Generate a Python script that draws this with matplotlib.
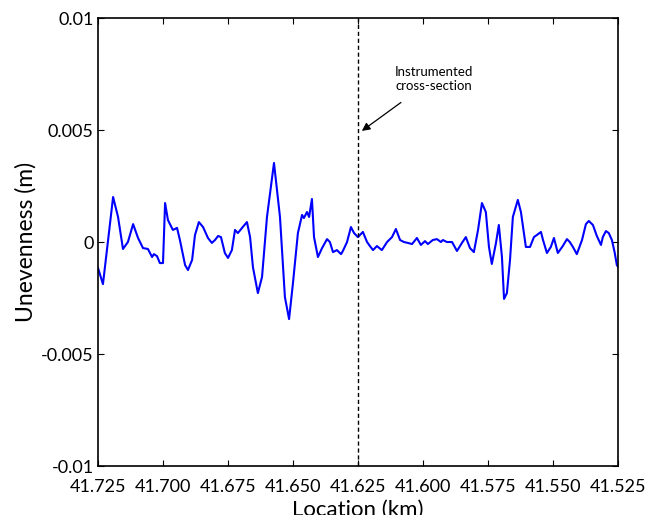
import numpy as np
import matplotlib.pyplot as plt

# ===============================
# Data
# ===============================
location_km = [
    41.7250, 41.7231, 41.7192, 41.7173, 41.7154, 41.7135, 41.7115, 41.7096, 41.7077, 41.7058,
    41.7042, 41.7035, 41.7023, 41.7012, 41.7000, 41.6992, 41.6981, 41.6962, 41.6946, 41.6935,
    41.6915, 41.6904, 41.6888, 41.6877, 41.6862, 41.6846, 41.6827, 41.6812, 41.6800, 41.6788,
    41.6777, 41.6762, 41.6750, 41.6735, 41.6723, 41.6712, 41.6696, 41.6677, 41.6665, 41.6654,
    41.6635, 41.6619, 41.6600, 41.6573, 41.6550, 41.6531, 41.6515, 41.6500, 41.6481, 41.6465,
    41.6458, 41.6446, 41.6438, 41.6427, 41.6419, 41.6404, 41.6388, 41.6369, 41.6358, 41.6346,
    41.6331, 41.6315, 41.6308, 41.6292, 41.6277, 41.6265, 41.6250, 41.6231, 41.6215, 41.6204,
    41.6192, 41.6177, 41.6158, 41.6138, 41.6119, 41.6104, 41.6088, 41.6073, 41.6058, 41.6042,
    41.6023, 41.6008, 41.5992, 41.5981, 41.5962, 41.5946, 41.5931, 41.5923, 41.5908, 41.5888,
    41.5869, 41.5850, 41.5835, 41.5819, 41.5804, 41.5788, 41.5773, 41.5758, 41.5746, 41.5735,
    41.5719, 41.5708, 41.5696, 41.5688, 41.5677, 41.5665, 41.5654, 41.5635, 41.5623, 41.5604,
    41.5588, 41.5573, 41.5562, 41.5546, 41.5538, 41.5523, 41.5508, 41.5496, 41.5481, 41.5462,
    41.5446, 41.5435, 41.5423, 41.5408, 41.5388, 41.5373, 41.5362, 41.5346, 41.5331, 41.5315,
    41.5308, 41.5296, 41.5285, 41.5273, 41.5262, 41.5254, 41.5250,
]
unevenness_mm = [
    -1.16, -1.88, 2.01, 1.12, -0.31, 0.00, 0.80, 0.18, -0.27, -0.31,
    -0.67, -0.54, -0.63, -0.94, -0.94, 1.74, 0.98, 0.54, 0.63, 0.09,
    -1.03, -1.25, -0.80, 0.31, 0.89, 0.67, 0.18, -0.04, 0.09, 0.27,
    0.22, -0.49, -0.71, -0.36, 0.54, 0.40, 0.63, 0.89, 0.22, -1.12,
    -2.28, -1.56, 1.12, 3.53, 1.12, -2.46, -3.44, -1.83, 0.40, 1.21,
    1.07, 1.34, 1.12, 1.92, 0.22, -0.67, -0.27, 0.13, 0.00, -0.45,
    -0.36, -0.54, -0.40, 0.00, 0.67, 0.40, 0.22, 0.45, 0.00, -0.18,
    -0.36, -0.18, -0.36, 0.00, 0.22, 0.58, 0.09, 0.00, -0.04, -0.09,
    0.18, -0.13, 0.04, -0.09, 0.09, 0.13, 0.00, 0.09, 0.00, 0.00,
    -0.40, -0.04, 0.22, -0.27, -0.45, 0.54, 1.74, 1.34, -0.22, -0.98,
    -0.04, 0.76, -0.67, -2.54, -2.28, -0.80, 1.12, 1.88, 1.34, -0.22,
    -0.22, 0.22, 0.31, 0.45, 0.09, -0.49, -0.22, 0.18, -0.49, -0.18,
    0.13, 0.00, -0.22, -0.54, 0.09, 0.80, 0.94, 0.76, 0.27, -0.13,
    0.22, 0.49, 0.40, 0.09, -0.49, -1.03, -1.10,
]

x_ticks = [41.725, 41.700, 41.675, 41.650, 41.625, 41.600, 41.575, 41.550, 41.525]
y_ticks = [-0.01, -0.005, 0, 0.005, 0.01]
y_ticklabels = ["-0.01", "-0.005", "0", "0.005", "0.01"]

section_km = 41.625

# ===============================
# Figure
# ===============================
plt.rcParams['font.family'] = ['Lato', 'DejaVu Sans']

fig = plt.figure(figsize=(6.47, 5.15), dpi=100)
ax = fig.add_axes([0.1515, 0.0951, 0.8035, 0.8699])

y = np.array(unevenness_mm) / 1000.0
ax.plot(location_km, y, color='#0000ff', linewidth=1.5)
ax.axvline(section_km, color='black', linestyle=(0, (3, 2)), linewidth=1.0)

ax.annotate("Instrumented\ncross-section",
            xy=(41.6235, 0.00496), xytext=(41.5958, 0.0073),
            ha='center', va='center', fontsize=9.5,
            arrowprops=dict(arrowstyle='-|>', color='black', lw=0.9,
                            shrinkA=10, shrinkB=0, mutation_scale=12))

ax.set_xlim(41.725, 41.525)
ax.set_ylim(-0.01, 0.01)
ax.set_xticks(x_ticks)
ax.set_xticklabels([f"{t:.3f}" for t in x_ticks])
ax.set_yticks(y_ticks)
ax.set_yticklabels(y_ticklabels)

ax.tick_params(direction='in', top=True, right=True, length=4, width=0.8,
               labelsize=13)
ax.tick_params(axis='x', pad=9)
ax.tick_params(axis='y', pad=3)
for s in ax.spines.values():
    s.set_linewidth(1.2)

ax.set_xlabel("Location (km)", fontsize=16, labelpad=4)
ax.set_ylabel("Unevenness (m)", fontsize=16.5, labelpad=3)

fig.savefig("out.png", dpi=100)
